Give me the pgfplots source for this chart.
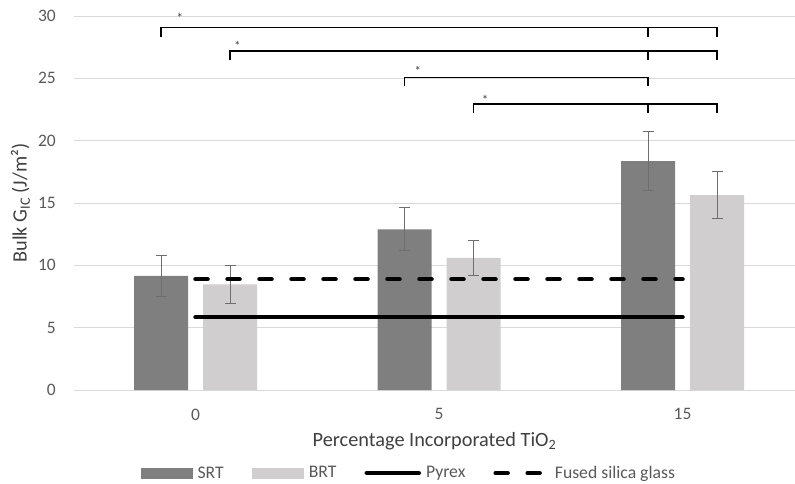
\documentclass[border=0pt]{standalone}
\usepackage{fontspec}
\setmainfont{Carlito}
\usepackage{pgfplots}
\pgfplotsset{compat=1.18}
\definecolor{srt}{HTML}{7F7F7F}
\definecolor{brt}{HTML}{D0CECE}
\definecolor{gridc}{HTML}{D9D9D9}
\definecolor{tickc}{HTML}{595959}
\definecolor{titlec}{HTML}{404040}
\definecolor{errc}{HTML}{6E6E6E}
\begin{document}
\begin{tikzpicture}[x=1pt,y=1pt]
\useasboundingbox (-74,-93) rectangle (721,390);
\begin{axis}[
  at={(0,0)}, anchor=south west, scale only axis,
  width=721pt, height=374pt,
  xmin=-0.499, xmax=2.462, ymin=0, ymax=30,
  clip=false,
  ytick={0,5,...,30}, xtick={0,1,2}, xticklabels={0,5,15},
  ymajorgrids, major grid style={gridc, line width=0.9pt},
  axis line style={draw=none},
  major tick length=0pt,
  /pgf/number format/assume math mode=true,
  tick label style={font=\fontsize{17.5}{20}\selectfont, text=tickc, inner sep=0pt},
  yticklabel style={anchor=east, xshift=-18pt},
  xticklabel style={anchor=north, yshift=-18.5pt},
  xlabel={Percentage Incorporated TiO\textsubscript{2}},
  ylabel={Bulk G\textsubscript{IC} (J/m²)},
  every axis x label/.style={at={([yshift=-56pt]axis description cs:0.5,0)}, anchor=base, font=\fontsize{20.3}{23}\selectfont, text=titlec},
  every axis y label/.style={at={([xshift=-53.5pt]axis description cs:0,0.5)}, anchor=center, rotate=90, font=\fontsize{20.3}{23}\selectfont, text=titlec},
  legend columns=4,
  legend style={at={(axis description cs:0.463,-0.222)}, anchor=center, draw=none, fill=none,
    font=\fontsize{17.7}{20}\selectfont, text=tickc, nodes={inner sep=0pt},
    /tikz/every odd column/.append style={column sep=5pt},
    /tikz/every even column/.append style={column sep=28pt}},
]
% SRT bars (drawn at category position minus half bar spacing)
\addplot[ybar, bar width=54pt, bar shift=0pt, fill=srt, draw=none,
  legend image code/.code={\fill[srt] (0pt,-5.5pt) rectangle (52pt,5.5pt);},
  error bars/.cd, y dir=both, y explicit,
  error bar style={color=errc, line width=1pt},
  error mark options={rotate=90, mark size=5.5pt, color=errc, line width=1pt}]
  coordinates {(-0.1417,9.15) +- (0,1.63) (0.8583,12.88) +- (0,1.72) (1.8583,18.36) +- (0,2.35)};
\addlegendentry{SRT}
\addplot[ybar, bar width=54pt, bar shift=0pt, fill=brt, draw=none,
  legend image code/.code={\fill[brt] (0pt,-5.5pt) rectangle (52pt,5.5pt);},
  error bars/.cd, y dir=both, y explicit,
  error bar style={color=errc, line width=1pt},
  error mark options={rotate=90, mark size=5.5pt, color=errc, line width=1pt}]
  coordinates {(0.1417,8.47) +- (0,1.53) (1.1417,10.59) +- (0,1.37) (2.1417,15.64) +- (0,1.86)};
\addlegendentry{BRT}
\addplot[black, line width=4.5pt, line cap=round, sharp plot, mark=none,
  legend image code/.code={\draw[black, line width=4.5pt, line cap=round] (0pt,0pt) -- (52pt,0pt);}]
  coordinates {(0,5.85) (1,5.85) (2,5.85)};
\addlegendentry{Pyrex}
\addplot[black, line width=4.5pt, line cap=round, dash pattern=on 12pt off 20pt, sharp plot, mark=none,
  legend image code/.code={\draw[black, line width=4.5pt, line cap=round, dash pattern=on 12pt off 20pt] (0pt,0pt) -- (52pt,0pt);}]
  coordinates {(0,8.9) (1,8.9) (2,8.9)};
\addlegendentry{Fused silica glass}
% significance brackets
\addplot[black, line width=1.2pt, sharp plot, mark=none, forget plot] coordinates {(-0.1417,28.33) (-0.1417,29.09) (2.1417,29.09) (2.1417,28.33)};
\addplot[black, line width=1.2pt, sharp plot, mark=none, forget plot] coordinates {(1.8583,29.09) (1.8583,28.33)};
\addplot[black, line width=1.2pt, sharp plot, mark=none, forget plot] coordinates {(0.1417,26.46) (0.1417,27.19) (2.1417,27.19) (2.1417,26.46)};
\addplot[black, line width=1.2pt, sharp plot, mark=none, forget plot] coordinates {(1.8583,27.19) (1.8583,26.46)};
\addplot[black, line width=1.2pt, sharp plot, mark=none, forget plot] coordinates {(0.8583,24.38) (0.8583,25.08) (1.8583,25.08) (1.8583,24.38)};
\addplot[black, line width=1.2pt, sharp plot, mark=none, forget plot] coordinates {(1.1417,22.21) (1.1417,22.94) (2.1417,22.94) (2.1417,22.21)};
\addplot[black, line width=1.2pt, sharp plot, mark=none, forget plot] coordinates {(1.8583,22.94) (1.8583,22.21)};
\node[inner sep=0pt, font=\fontsize{13}{15}\selectfont, text=titlec] at (axis cs:-0.064,29.85) {*};
\node[inner sep=0pt, font=\fontsize{13}{15}\selectfont, text=titlec] at (axis cs:0.172,27.62) {*};
\node[inner sep=0pt, font=\fontsize{13}{15}\selectfont, text=titlec] at (axis cs:0.913,25.59) {*};
\node[inner sep=0pt, font=\fontsize{13}{15}\selectfont, text=titlec] at (axis cs:1.189,23.27) {*};
\end{axis}
\end{tikzpicture}
\end{document}
